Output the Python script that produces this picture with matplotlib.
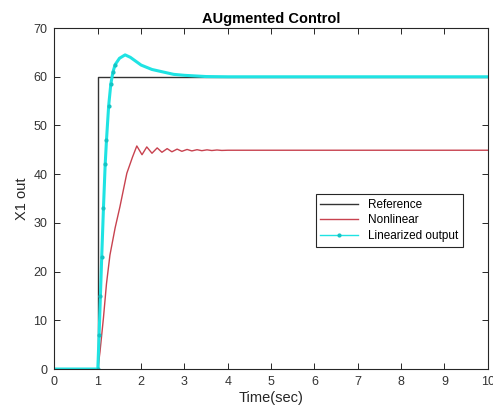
import matplotlib
matplotlib.use("Agg")
import matplotlib.pyplot as plt

plt.rcParams['font.family'] = ['Liberation Sans', 'DejaVu Sans']

# Reference step
ref_t = [0, 1, 1, 10]
ref_y = [0, 0, 60, 60]

# Nonlinear response
nl_t = [0, 1.0, 1.05, 1.13, 1.20, 1.28, 1.40, 1.51, 1.60, 1.67, 1.80, 1.90,
        2.02, 2.13, 2.25, 2.37, 2.48, 2.60, 2.71, 2.83, 2.94, 3.06,
        3.17, 3.29, 3.40, 3.52, 3.63, 3.75, 3.86, 4.0, 10.0]
nl_y = [0, 0, 3.5, 10.5, 17.5, 23.4, 29.0, 33.3, 37.2, 40.2, 43.5, 45.8,
        44.0, 45.6, 44.3, 45.4, 44.5, 45.25, 44.6, 45.15, 44.7, 45.08,
        44.78, 45.03, 44.83, 45.0, 44.86, 44.97, 44.88, 44.92, 44.92]

# Linearized output
lin_t = [0, 1.0, 1.03, 1.06, 1.09, 1.13, 1.17, 1.20, 1.25,
         1.30, 1.35, 1.40, 1.50, 1.63, 1.75, 2.0, 2.25, 2.5, 2.75, 3.0, 3.5,
         4.0, 10.0]
lin_y = [0, 0, 7, 15, 23, 33, 42, 47, 54,
         58.5, 61, 62.5, 63.8, 64.5, 64.0, 62.4, 61.5, 61.0, 60.5, 60.3, 60.05,
         60, 60]

x_ticks = [0, 1, 2, 3, 4, 5, 6, 7, 8, 9, 10]
y_ticks = [0, 10, 20, 30, 40, 50, 60, 70]

fig = plt.figure(figsize=(4.93, 4.13), dpi=100)
ax = fig.add_axes([0.1105, 0.1065, 0.879, 0.8255])

ax.plot(ref_t, ref_y, color='#333333', lw=1.0, label='Reference')
ax.plot(nl_t, nl_y, color='#c8424f', lw=1.0, label='Nonlinear')
ax.plot(lin_t, lin_y, color='#1fe3e3', lw=2.2, marker='.', ms=4,
        markevery=list(range(1, 12)), mfc='#13c4c4', mec='#13c4c4',
        label='Linearized output')

ax.set_xlim(0, 10)
ax.set_ylim(0, 70)
ax.set_xticks(x_ticks)
ax.set_yticks(y_ticks)
ax.tick_params(direction='in', length=4, width=0.7, top=True, right=True,
               labelsize=9, colors='#262626', labelcolor='#333333', pad=5)
for s in ax.spines.values():
    s.set_color('#262626')
    s.set_linewidth(0.8)

ax.set_title('AUgmented Control', fontsize=10.5, fontweight='bold', pad=4)
ax.set_xlabel('Time(sec)', fontsize=10.5, color='#262626', labelpad=2)
ax.set_ylabel('X1 out', fontsize=10.5, color='#262626', labelpad=3)

leg = ax.legend(loc='upper right', bbox_to_anchor=(0.942, 0.513),
                fontsize=8.5, frameon=True, fancybox=False,
                borderaxespad=0, handlelength=3.2, labelspacing=0.3)
leg.get_frame().set_edgecolor('#262626')
leg.get_frame().set_linewidth(0.8)
leg.get_frame().set_alpha(1)
leg.get_lines()[2].set_linewidth(1.0)

fig.savefig('out.png', dpi=100)
